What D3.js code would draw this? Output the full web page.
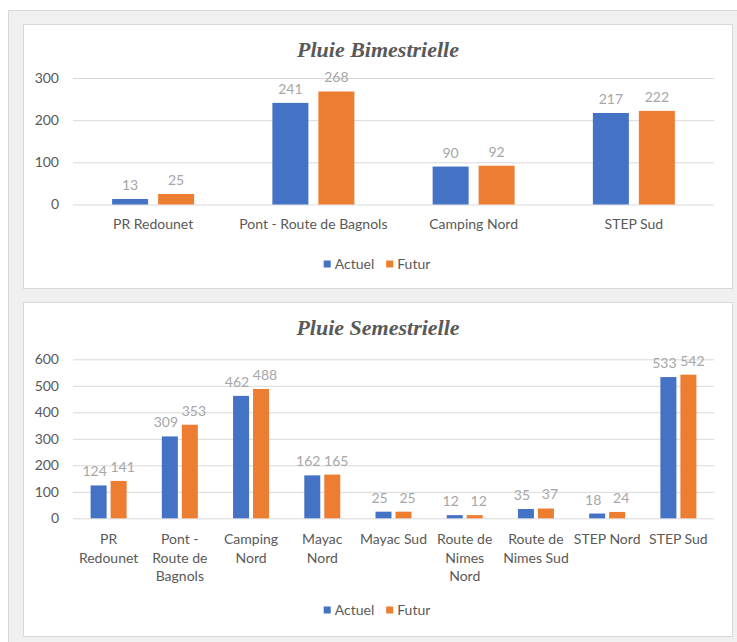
<!DOCTYPE html>
<html><head><meta charset="utf-8">
<script src="https://cdn.jsdelivr.net/npm/d3@7"></script>
<style>body{margin:0;background:#fff;}svg{display:block;}</style>
</head><body>
<script>
// ---- data ----
const seriesNames = ["Actuel", "Futur"];
const seriesColors = ["#4472C4", "#ED7D31"];

const bimTitle = "Pluie Bimestrielle";
const bimCategories = ["PR Redounet", "Pont - Route de Bagnols", "Camping Nord", "STEP Sud"];
const bimActuel = [13, 241, 90, 217];
const bimFutur = [25, 268, 92, 222];
const bimTicks = [0, 100, 200, 300];

const semTitle = "Pluie Semestrielle";
const semCategories = ["PR\nRedounet", "Pont -\nRoute de\nBagnols", "Camping\nNord", "Mayac\nNord", "Mayac Sud", "Route de\nNimes\nNord", "Route de\nNimes Sud", "STEP Nord", "STEP Sud"];
const semActuel = [124, 309, 462, 162, 25, 12, 35, 18, 533];
const semFutur = [141, 353, 488, 165, 25, 12, 37, 24, 542];
const semTicks = [0, 100, 200, 300, 400, 500, 600];

const W = 737, H = 642;
const FONT = "Lato, 'Open Sans', sans-serif";
const svg = d3.select("body").append("svg").attr("width", W).attr("height", H);

// background frame
svg.append("rect").attr("x", 0).attr("y", 0).attr("width", W).attr("height", H).attr("fill", "#ffffff");
svg.append("rect").attr("x", 8.5).attr("y", 10.5).attr("width", W).attr("height", H)
  .attr("fill", "#f0f0f0").attr("stroke", "#d9d9d9").attr("stroke-width", 1);

function drawChart(cfg) {
  const g = svg.append("g");
  g.append("rect").attr("x", cfg.px + 0.5).attr("y", cfg.py + 0.5)
    .attr("width", cfg.pw).attr("height", cfg.ph)
    .attr("fill", "#ffffff").attr("stroke", "#d9d9d9").attr("stroke-width", 1);

  g.append("text").attr("x", 378).attr("y", cfg.titleY)
    .attr("text-anchor", "middle")
    .attr("font-family", "'Liberation Serif', 'DejaVu Serif', serif")
    .attr("font-weight", "bold").attr("font-style", "italic")
    .attr("font-size", cfg.titleSize).attr("fill", "#595959")
    .text(cfg.title);

  const y = d3.scaleLinear().domain([0, d3.max(cfg.ticks)]).range([cfg.y0, cfg.yTop]);
  const x = d3.scaleBand().domain(cfg.categories).range([73, 714]).padding(0);

  // gridlines
  const yAxis = d3.axisLeft(y).tickValues(cfg.ticks).tickSize(-(714 - 73)).tickPadding(14);
  const ag = g.append("g").attr("transform", "translate(73,0)").call(yAxis);
  ag.select(".domain").remove();
  ag.selectAll(".tick line").attr("stroke", "#d9d9d9").attr("stroke-width", 1);
  ag.selectAll(".tick text").attr("font-family", FONT).attr("font-size", 14).attr("fill", "#595959");

  const data = cfg.categories.map((c, i) => ({ cat: c, vals: [cfg.actuel[i], cfg.futur[i]] }));
  const groupW = cfg.barW * 2 + cfg.gap;
  const x1 = d3.scaleBand().domain(seriesNames).range([-groupW / 2, groupW / 2])
    .paddingInner(cfg.gap / (cfg.barW + cfg.gap)).paddingOuter(0);

  const grp = g.selectAll(".grp").data(data).enter().append("g")
    .attr("transform", d => `translate(${x(d.cat) + x.bandwidth() / 2},0)`);
  grp.selectAll("rect").data(d => d.vals.map((v, k) => ({ v, k }))).enter().append("rect")
    .attr("x", d => x1(seriesNames[d.k]))
    .attr("width", x1.bandwidth())
    .attr("y", d => y(d.v))
    .attr("height", d => y(0) - y(d.v))
    .attr("fill", d => seriesColors[d.k]);
  grp.selectAll("text.lbl").data(d => d.vals.map((v, k) => ({ v, k }))).enter().append("text")
    .attr("class", "lbl")
    .attr("x", d => x1(seriesNames[d.k]) + x1.bandwidth() / 2 + (d.k === 0 ? -cfg.lblShift : cfg.lblShift))
    .attr("y", d => y(d.v) - 9)
    .attr("text-anchor", "middle")
    .attr("font-family", FONT).attr("font-size", 14).attr("fill", "#a6a6a6")
    .text(d => d.v);

  // category labels
  const cl = g.selectAll(".cat").data(cfg.categories).enter().append("text")
    .attr("text-anchor", "middle")
    .attr("font-family", FONT).attr("font-size", 14).attr("fill", "#595959")
    .attr("x", d => x(d) + x.bandwidth() / 2)
    .attr("y", cfg.catY);
  cl.each(function (d) {
    const lines = d.split("\n");
    const t = d3.select(this);
    lines.forEach((ln, i) => {
      t.append("tspan").attr("x", x(d) + x.bandwidth() / 2).attr("dy", i === 0 ? 0 : 18.5).text(ln);
    });
  });

  // legend
  const lg = g.append("g");
  let cx = 0;
  seriesNames.forEach((s, i) => {
    const it = lg.append("g");
    it.append("rect").attr("x", cx).attr("y", -3.5).attr("width", 7).attr("height", 7).attr("fill", seriesColors[i]);
    const tx = it.append("text").attr("x", cx + 11).attr("y", 5)
      .attr("font-family", FONT).attr("font-size", 14).attr("fill", "#595959").text(s);
    const w = tx.node().getComputedTextLength();
    cx += 11 + w + 12;
  });
  const totalW = cx - 12;
  lg.attr("transform", `translate(${377 - totalW / 2},${cfg.legY})`);
}

drawChart({
  px: 23, py: 24, pw: 709, ph: 264,
  title: bimTitle, titleY: 57, titleSize: 22,
  categories: bimCategories, actuel: bimActuel, futur: bimFutur, ticks: bimTicks,
  y0: 204.5, yTop: 78, barW: 36, gap: 10, lblShift: 0,
  catY: 229, legY: 264
});

drawChart({
  px: 23, py: 302, pw: 709, ph: 334,
  title: semTitle, titleY: 335, titleSize: 22,
  categories: semCategories, actuel: semActuel, futur: semFutur, ticks: semTicks,
  y0: 518.3, yTop: 359.3, barW: 16, gap: 4, lblShift: 4,
  catY: 544, legY: 610
});
</script>
</body></html>
